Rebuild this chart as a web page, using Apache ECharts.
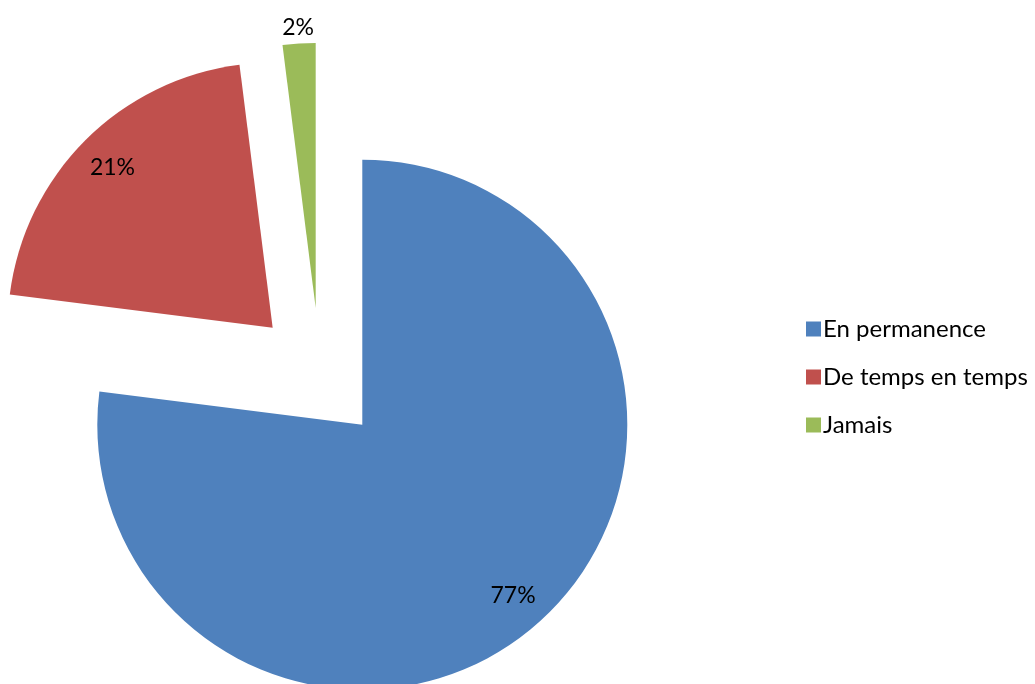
<!DOCTYPE html>
<html>
<head>
<meta charset="utf-8">
<script src="https://cdn.jsdelivr.net/npm/echarts@6/dist/echarts.min.js"></script>
<style>
  html, body { margin: 0; padding: 0; background: #ffffff; }
  #chart { width: 1035px; height: 684px; }
</style>
</head>
<body>
<div id="chart"></div>
<script>
// Survey answers, in percent
const categories = ['En permanence', 'De temps en temps', 'Jamais'];
const values = [77, 21, 2];

// Presentation: slice colours, exploded slice centres, label distance (fraction of radius)
const colors = ['#4F81BD', '#C0504D', '#9BBB59'];
const centers = [[362.3, 424.7], [272.7, 327.7], [315.7, 308]];
const radius = 265;
const labelRadius = [0.86, 0.855, 1.06];
const fontFamily = 'Lato, "Open Sans", sans-serif';

const total = values.reduce((a, b) => a + b, 0);

function midAngle(i) {
  let cum = 0;
  for (let k = 0; k < i; k++) cum += values[k];
  return (cum + values[i] / 2) / total * 2 * Math.PI; // clockwise from 12 o'clock
}

// One pie per slice so every slice can be pulled out on its own
const series = categories.map((_, s) => ({
  type: 'pie',
  center: centers[s],
  radius: radius,
  startAngle: 90,
  clockwise: true,
  silent: true,
  avoidLabelOverlap: false,
  labelLine: { show: false },
  label: {
    position: 'inside',
    formatter: '{c}%',
    color: '#000000',
    fontFamily: fontFamily,
    fontSize: 23
  },
  labelLayout: function (p) {
    const a = midAngle(p.dataIndex);
    const d = radius * labelRadius[p.dataIndex];
    return {
      x: centers[s][0] + d * Math.sin(a),
      y: centers[s][1] - d * Math.cos(a),
      align: 'center',
      verticalAlign: 'middle'
    };
  },
  data: categories.map((name, i) => ({
    name: name,
    value: values[i],
    itemStyle: { color: i === s ? colors[i] : 'rgba(0,0,0,0)' },
    label: { show: i === s }
  }))
}));

const chart = echarts.init(document.getElementById('chart'), null, { renderer: 'canvas' });
chart.setOption({
  backgroundColor: '#ffffff',
  animation: false,
  legend: {
    orient: 'vertical',
    left: 801,
    top: 312,
    itemWidth: 15,
    itemHeight: 15,
    itemGap: 24,
    icon: 'rect',
    selectedMode: false,
    textStyle: { color: '#000000', fontFamily: fontFamily, fontSize: 24, lineHeight: 24, padding: [0, 0, 0, -3] },
    data: categories.map((name, i) => ({ name: name, itemStyle: { color: colors[i] } }))
  },
  series: series
});
</script>
</body>
</html>
